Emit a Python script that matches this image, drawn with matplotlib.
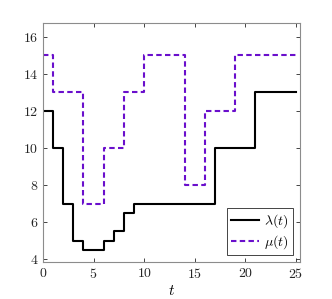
import matplotlib
matplotlib.use("Agg")
import matplotlib.pyplot as plt

plt.rcParams['font.family'] = 'serif'
plt.rcParams['font.serif'] = ['cmr10']
plt.rcParams['mathtext.fontset'] = 'cm'
plt.rcParams['axes.formatter.use_mathtext'] = True

# step edges and levels
t_lam = [0, 1, 2, 3, 4, 6, 7, 8, 9, 17, 21, 25]
lam = [12, 10, 7, 5, 4.5, 5, 5.5, 6.5, 7, 10, 13, 13]
t_mu = [0, 1, 4, 6, 8, 10, 14, 16, 19, 25]
mu = [15, 13, 7, 10, 13, 15, 8, 12, 15, 15]

xticks = [0, 5, 10, 15, 20, 25]
yticks = [4, 6, 8, 10, 12, 14, 16]

fig = plt.figure(figsize=(3.32, 2.99), dpi=100)
ax = fig.add_axes([0.1295, 0.1237, 0.7741, 0.8003])

ax.plot(t_lam, lam, drawstyle='steps-post', color='black', lw=1.5, label=r'$\lambda(t)$')
ax.plot(t_mu, mu, drawstyle='steps-post', color='#6a0fcc', lw=1.5,
        dashes=(2.6, 1.6), label=r'$\mu(t)$')

ax.set_xlim(0, 25.4)
ax.set_ylim(3.84, 16.77)
ax.set_xticks(xticks)
ax.set_yticks(yticks)
ax.tick_params(direction='in', top=True, right=True, length=3, width=0.6,
               colors='#262626', labelsize=10)
for s in ax.spines.values():
    s.set_color('#8c8c8c')
    s.set_linewidth(0.8)
ax.set_xlabel(r'$t$', fontsize=11, labelpad=2)

leg = ax.legend(loc='lower right', fontsize=10, fancybox=False, framealpha=1,
                edgecolor='#262626', handlelength=2.0, borderpad=0.3,
                labelspacing=0.2, handletextpad=0.4, borderaxespad=0.5)
leg.get_frame().set_linewidth(0.6)

fig.savefig('out.png', dpi=100)
